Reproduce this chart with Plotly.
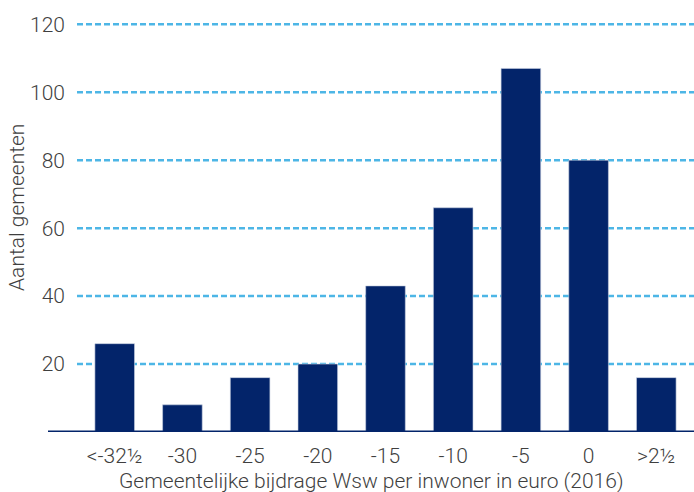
import plotly.graph_objects as go

categories = ["<-32½", "-30", "-25", "-20", "-15", "-10", "-5", "0", ">2½"]
counts = [26, 8, 16, 20, 43, 66, 107, 80, 16]
y_ticks = [20, 40, 60, 80, 100, 120]

BAR = "#03246A"
GRID = "#4DB6E6"
TXT = "#3f3f3f"
FONT = "Roboto"
FS = 21

L, R, T, B = 77, 0, 15, 60
W, H = 694, 492
plot_w = W - L - R
plot_h = H - T - B

fig = go.Figure()
fig.add_trace(go.Bar(
    x=list(range(len(categories))), y=counts,
    marker=dict(color=BAR, line=dict(color="#c8d0e0", width=0.6)),
    width=0.585,
))

shapes = []
for v in y_ticks:
    shapes.append(dict(type="line", xref="paper", yref="y", x0=0, x1=1, y0=v, y1=v,
                       line=dict(color=GRID, width=2.5, dash="6px,3px"), layer="below"))
# x axis line extending left of plot area
shapes.append(dict(type="line", xref="paper", yref="y", x0=(48 - L) / plot_w, x1=1, y0=0, y1=0,
                   line=dict(color=BAR, width=3), layer="above"))

fig.update_layout(
    width=W, height=H,
    margin=dict(l=L, r=R, t=T, b=B),
    paper_bgcolor="white", plot_bgcolor="white",
    showlegend=False,
    shapes=shapes,
    font=dict(family=FONT, size=FS, color=TXT, weight=300),
    xaxis=dict(
        tickmode="array", tickvals=list(range(len(categories))), ticktext=categories,
        range=[-0.557, 8.557], showgrid=False, zeroline=False, showline=False,
        ticks="", ticklabelstandoff=9,
        tickfont=dict(family=FONT, size=FS, color=TXT, weight=300),
    ),
    yaxis=dict(
        tickmode="array", tickvals=y_ticks, range=[0, (432.3 - T) / 3.4],
        showgrid=False, zeroline=False, showline=False, ticks="",
        ticklabelstandoff=11,
        tickfont=dict(family=FONT, size=FS, color=TXT, weight=300),
    ),
    annotations=[
        dict(text="Gemeentelijke bijdrage Wsw per inwoner in euro (2016)", xref="paper", yref="paper",
             x=((48 + 694) / 2 - L) / plot_w, y=-(481 - (H - B)) / plot_h,
             xanchor="center", yanchor="middle", showarrow=False,
             font=dict(family=FONT, size=FS, color=TXT, weight=300)),
        dict(text="Aantal gemeenten", xref="paper", yref="paper",
             x=(17 - L) / plot_w, y=((H - B) - 208) / plot_h,
             xanchor="center", yanchor="middle", showarrow=False, textangle=-90,
             font=dict(family=FONT, size=FS, color=TXT, weight=300)),
    ],
)

fig.write_html("out.html")
